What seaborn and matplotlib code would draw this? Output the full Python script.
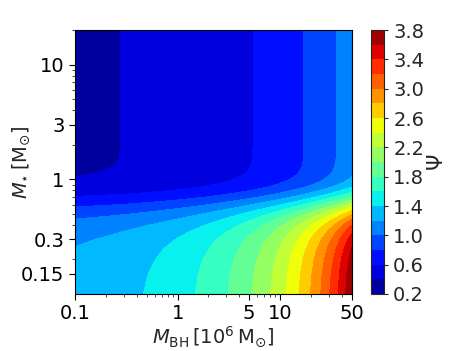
import numpy as np
import matplotlib
matplotlib.use("Agg")
import matplotlib.pyplot as plt
import matplotlib.ticker as mticker
import seaborn as sns

m_bh = [0.1, 0.13, 0.17, 0.22, 0.3, 0.4, 0.5, 0.7, 1.0, 1.3, 1.7, 2.2, 3.0,
        4.0, 5.0, 7.0, 10.0, 13.0, 17.0, 22.0, 30.0, 40.0, 50.0]
psi_bh = [0.882, 0.894, 0.907, 0.922, 0.942, 0.964, 0.984, 1.018, 1.060,
          1.097, 1.139, 1.186, 1.250, 1.320, 1.381, 1.488, 1.622, 1.738,
          1.872, 2.020, 2.224, 2.444, 2.639]

# stellar mass grid [Msun] and the stellar part of Psi
m_star = [0.1, 0.15, 0.2, 0.25, 0.3, 0.35, 0.4, 0.45, 0.5, 0.55, 0.6, 0.65,
          0.7, 0.75, 0.8, 0.85, 0.9, 0.95, 1.0, 1.1, 1.2, 1.3, 1.5, 2.0,
          5.0, 20.0]
psi_star = [1.433, 1.418, 1.396, 1.367, 1.328, 1.276, 1.212, 1.135, 1.048,
            0.954, 0.859, 0.771, 0.692, 0.627, 0.575, 0.534, 0.504, 0.482,
            0.466, 0.446, 0.437, 0.432, 0.428, 0.427, 0.427, 0.427]

levels = np.round(np.arange(0.2, 3.81, 0.2), 1)
x_ticks = [0.1, 1, 5, 10, 50]
y_ticks = [0.15, 0.3, 1, 3, 10]

sns.set_theme(style="ticks")
plt.rcParams["font.family"] = ["DejaVu Sans"]
plt.rcParams["mathtext.fontset"] = "dejavusans"

psi = np.outer(psi_star, psi_bh)

fig = plt.figure(figsize=(4.69, 3.51), dpi=100)
ax = fig.add_axes([0.160, 0.1624, 0.590, 0.752])
cax = fig.add_axes([0.791, 0.1624, 0.028, 0.752])

cs = ax.contourf(m_bh, m_star, psi, levels=levels, cmap="jet")
ax.set_xscale("log")
ax.set_yscale("log")
ax.set_xlim(0.1, 50)
ax.set_ylim(0.1, 20)

ax.set_xticks(x_ticks)
ax.set_xticklabels(["0.1", "1", "5", "10", "50"])
ax.set_yticks(y_ticks)
ax.set_yticklabels(["0.15", "0.3", "1", "3", "10"])
ax.xaxis.set_minor_formatter(mticker.NullFormatter())
ax.yaxis.set_minor_formatter(mticker.NullFormatter())
ax.tick_params(axis="both", which="major", labelsize=14, length=4, width=0.8,
               colors="black")
ax.tick_params(axis="both", which="minor", length=2.5, width=0.6)
for s in ax.spines.values():
    s.set_color("black")
    s.set_linewidth(0.8)

ax.set_xlabel(r"$M_{\rm BH}\,[10^6\,{\rm M}_{\odot}]$", fontsize=14, labelpad=1)
ax.set_ylabel(r"$M_{\star}\,[{\rm M}_{\odot}]$", fontsize=14)
ax.yaxis.set_label_coords(-0.155, 0.5)

cb = fig.colorbar(cs, cax=cax, ticks=levels[::2])
cb.ax.set_yticklabels([f"{v:.1f}" for v in levels[::2]])
cb.ax.tick_params(labelsize=14, length=3, width=0.8)
cb.outline.set_linewidth(0.8)
cb.set_label(r"$\Psi$", fontsize=15, labelpad=2)

fig.savefig("out.png", dpi=100)
